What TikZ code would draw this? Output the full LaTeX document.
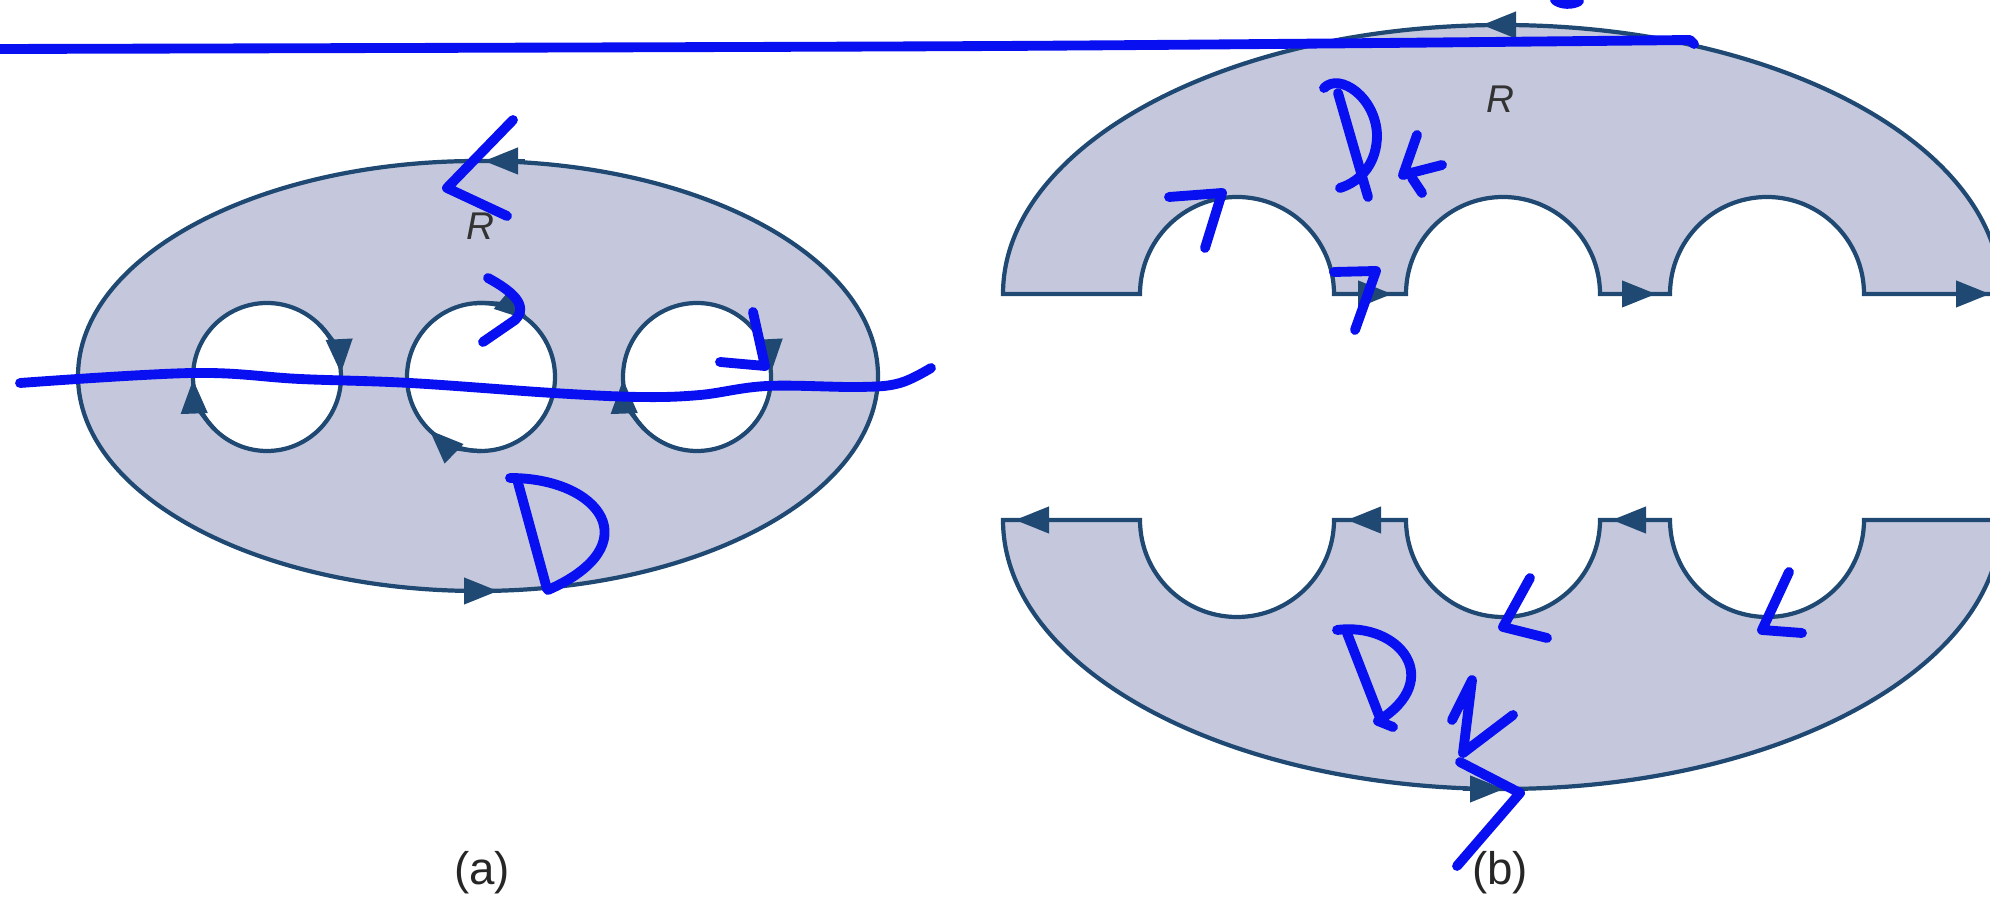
\documentclass[tikz,border=0pt]{standalone}
\usepackage{fontspec}
\setmainfont{Liberation Sans}
\usetikzlibrary{arrows.meta}

\definecolor{regionfill}{RGB}{197,200,221}
\definecolor{edgeblue}{RGB}{31,73,114}
\definecolor{penblue}{RGB}{8,16,242}

\begin{document}
\begin{tikzpicture}[x=0.1mm,y=0.1mm,
  region/.style={draw=edgeblue,fill=regionfill,line width=1.2pt},
  hole/.style={draw=edgeblue,fill=white,line width=1.2pt},
  flow/.style={edgeblue,line width=1.2pt,-{Triangle[length=3.4mm,width=2.6mm]}},
  scribble/.style={penblue,line width=2.8pt,line cap=round,line join=round},
  rlabel/.style={font=\fontsize{11}{13}\selectfont\itshape,text=black!80},
  caption/.style={font=\fontsize{13}{15}\selectfont,text=black!85}]

\useasboundingbox (0,0) rectangle (1990,-901);

% (a) region with three holes
\coordinate (A) at (478,-376);
\coordinate (c1) at (267,-377);
\coordinate (c2) at (481,-377);
\coordinate (c3) at (697,-377);

\draw[region] (A) ellipse [x radius=400,y radius=215];
\foreach \c in {c1,c2,c3}
  \draw[hole] (\c) circle [radius=74];

% orientation (a)
\draw[flow] (525,-161) -- (484,-161);
\draw[flow] (458,-591) -- (498,-591);
\draw[flow] (c1) ++(45:74) arc[start angle=45,end angle=3,radius=74];
\draw[flow] (c1) ++(225:74) arc[start angle=225,end angle=182,radius=74];
\draw[flow] (c2) ++(95:74) arc[start angle=95,end angle=50,radius=74];
\draw[flow] (c2) ++(270:74) arc[start angle=270,end angle=226,radius=74];
\draw[flow] (c3) ++(45:74) arc[start angle=45,end angle=3,radius=74];
\draw[flow] (c3) ++(225:74) arc[start angle=225,end angle=182,radius=74];

\node[rlabel] (Ra) at (480,-226) {R};
\node[caption] (capa) at (482,-873) {(a)};

% (b) upper half
\draw[region] (1003,-294) -- (1140,-294)
  arc[start angle=180,end angle=0,radius=97] -- (1406,-294)
  arc[start angle=180,end angle=0,radius=97] -- (1670,-294)
  arc[start angle=180,end angle=0,radius=97] -- (2001,-294)
  arc[start angle=0,end angle=180,x radius=499,y radius=269] -- cycle;

% (b) lower half
\draw[region] (1003,-520) -- (1140,-520)
  arc[start angle=180,end angle=360,radius=97] -- (1406,-520)
  arc[start angle=180,end angle=360,radius=97] -- (1670,-520)
  arc[start angle=180,end angle=360,radius=97] -- (2001,-520)
  arc[start angle=0,end angle=-180,x radius=499,y radius=269] -- cycle;

% orientation (b)
\draw[flow] (1350,-294) -- (1392,-294);
\draw[flow] (1614,-294) -- (1656,-294);
\draw[flow] (1948,-294) -- (1990,-294);
\draw[flow] (1525,-25) -- (1482,-25);
\draw[flow] (1060,-520) -- (1015,-520);
\draw[flow] (1392,-520) -- (1347,-520);
\draw[flow] (1655,-520) -- (1612,-520);
\draw[flow] (1463,-789) -- (1504,-789);

\node[rlabel] (Rb) at (1500,-99) {R};
\node[caption] (capb) at (1500,-873) {(b)};

% pen marks (a)
\draw[scribble] plot[smooth,tension=0.6] coordinates {(20,-383) (193,-373) (300,-379)
  (410,-383) (553,-393) (640,-397) (700,-395) (767,-386) (860,-387) (900,-383) (931,-368)};
\draw[scribble] (513,-120) -- (447,-188) -- (507,-216);
\draw[scribble] (488,-278) .. controls (510,-290) and (530,-305) .. (515,-320) -- (483,-342);
\draw[scribble] (753,-312) -- (765,-366) -- (720,-362);
\draw[scribble] (517,-479) -- (547,-589);
\draw[scribble] (510,-478) .. controls (600,-478) and (650,-545) .. (548,-590);

% pen marks (b)
\draw[scribble] plot[smooth,tension=0.5] coordinates {(0,-49) (1000,-46) (1690,-40)} -- (1694,-44);
\draw[scribble] (1555,0) .. controls (1561,-5) and (1573,-5) .. (1579,-1);
\draw[scribble] (1338,-93) -- (1368,-197);
\draw[scribble] (1324,-88) .. controls (1340,-72) and (1376,-98) .. (1377,-135)
  .. controls (1377,-162) and (1362,-181) .. (1340,-188);
\draw[scribble] (1417,-135) -- (1403,-175) -- (1442,-165);
\draw[scribble] (1412,-178) -- (1422,-193);
\draw[scribble] (1169,-197) -- (1222,-193) -- (1205,-248);
\draw[scribble] (1334,-272) -- (1376,-271) -- (1355,-330);
\draw[scribble] (1530,-578) -- (1503,-627) -- (1547,-638);
\draw[scribble] (1789,-572) -- (1762,-630) -- (1802,-633);
\draw[scribble] (1347,-633) -- (1380,-718);
\draw[scribble] (1337,-630) .. controls (1400,-622) and (1445,-680) .. (1378,-721) -- (1393,-727);
\draw[scribble] (1452,-720) -- (1472,-680) -- (1463,-753) -- (1513,-715);
\draw[scribble] (1460,-762) -- (1520,-793) -- (1457,-866);

\end{tikzpicture}
\end{document}
